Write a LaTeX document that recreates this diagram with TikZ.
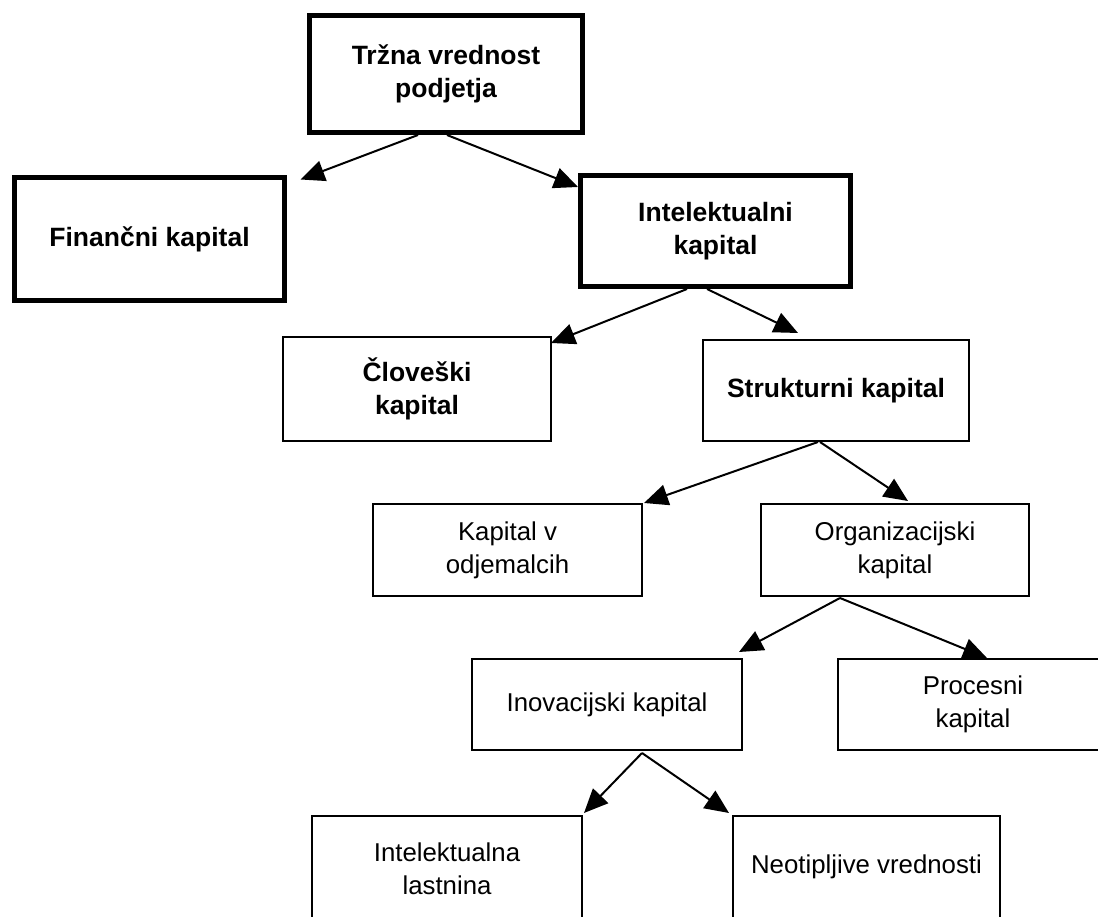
\documentclass[tikz,border=0pt]{standalone}
\usepackage{fontspec}
\setmainfont{Liberation Sans}
\usetikzlibrary{arrows.meta,calc}
\begin{document}
\begin{tikzpicture}[x=1pt,y=-1pt,
  boxbase/.style={draw=black, fill=white, align=center, inner sep=0pt, font=\fontsize{25.8}{33}\selectfont},
  thickbox/.style={boxbase, line width=5pt, font=\fontsize{26.5}{33}\selectfont\bfseries},
  thinbox/.style={boxbase, line width=2pt},
  boldthin/.style={thinbox, font=\fontsize{26.5}{33}\selectfont\bfseries},
  link/.style={line width=2pt, -{Triangle[length=24pt,width=21pt]}}
]
\useasboundingbox (0,0) rectangle (1098,917);
\clip (0,0) rectangle (1098,917);

\node[thickbox, minimum width=273pt, minimum height=117pt] (tr) at (446,74) {Tržna vrednost\\podjetja};
\node[thickbox, minimum width=270pt, minimum height=123pt] (fin) at (149.5,239) {Finančni kapital};
\node[thickbox, minimum width=270pt, minimum height=111pt] (int) at (715.5,231) {Intelektualni\\kapital};
\node[boldthin, minimum width=268pt, minimum height=104pt] (clo) at (417,389) {Človeški\\kapital};
\node[boldthin, minimum width=266pt, minimum height=101pt] (str) at (836,390.5) {Strukturni kapital};
\node[thinbox, minimum width=269pt, minimum height=92pt] (kap) at (507.5,550) {Kapital v\\odjemalcih};
\node[thinbox, minimum width=268pt, minimum height=92pt] (org) at (895,550) {Organizacijski\\kapital};
\node[thinbox, minimum width=270pt, minimum height=91pt] (ino) at (607,704.5) {Inovacijski kapital};
\node[thinbox, minimum width=270pt, minimum height=91pt] (pro) at (973,704.5) {Procesni\\kapital};
\node[thinbox, minimum width=270pt, minimum height=106pt] (il) at (447,869) {Intelektualna\\lastnina};
\node[thinbox, minimum width=267pt, minimum height=102pt] (neo) at (866.5,867) {Neotipljive vrednosti};

\draw[link] ($(tr.south)+(-28,0)$) -- ($(fin.north east)+(13.5,4.5)$);
\draw[link] ($(tr.south)+(1,0)$) -- ($(int.north west)+(0,14)$);
\draw[link] ($(int.south)+(-28.5,0)$) -- ($(clo.north east)+(-1,7)$);
\draw[link] ($(int.south)+(-8.5,0)$) -- ($(str.north)+(-38,-6)$);
\draw[link] ($(str.south)+(-18,0)$) -- ($(kap.north east)+(1,0)$);
\draw[link] ($(str.south)+(-16,0)$) -- ($(org.north)+(13,-2)$);
\draw[link] ($(org.south)+(-55,1)$) -- ($(ino.north east)+(-4,-6)$);
\draw[link] ($(org.south)+(-55,1)$) -- ($(pro.north)+(14,0)$);
\draw[link] ($(ino.south)+(35,2)$) -- ($(il.north east)+(1,-2)$);
\draw[link] ($(ino.south)+(35,2)$) -- ($(neo.north west)+(-3,-2)$);
\end{tikzpicture}
\end{document}
